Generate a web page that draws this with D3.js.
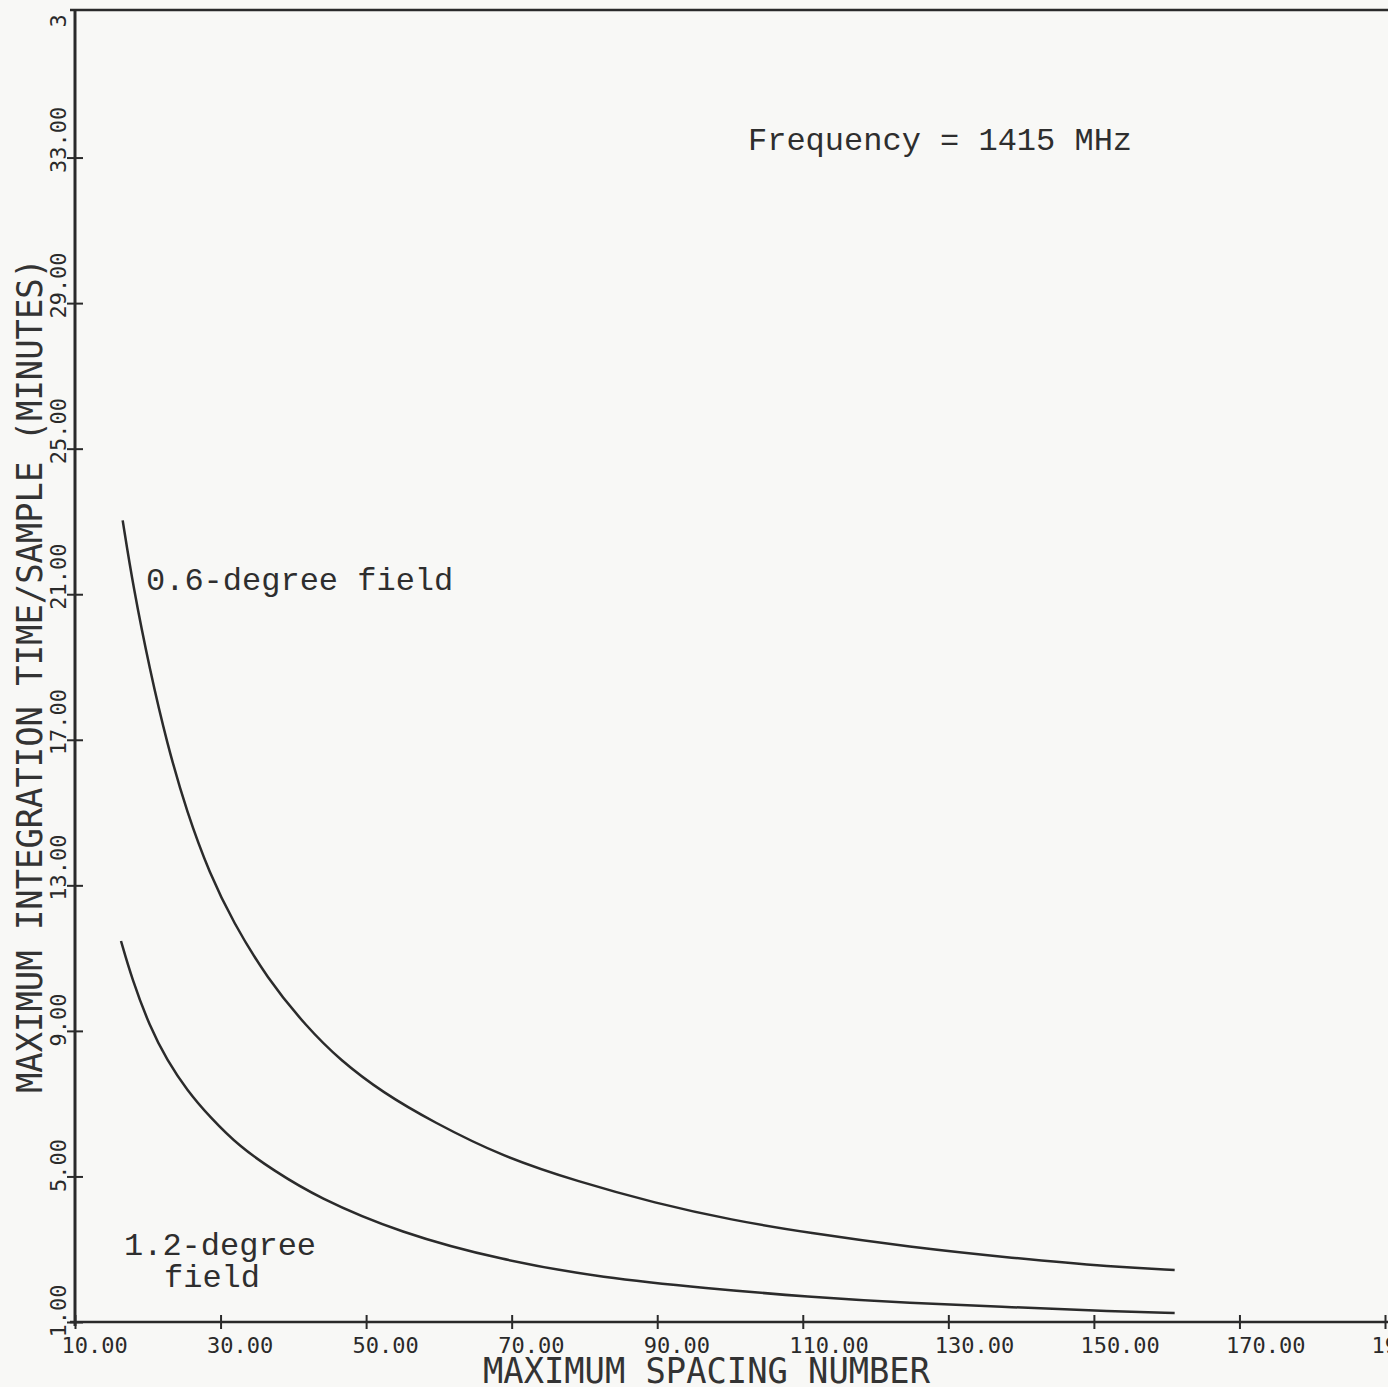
<!DOCTYPE html>
<html>
<head>
<meta charset="utf-8">
<script src="https://cdn.jsdelivr.net/npm/d3@7"></script>
<style>
	html, body { margin: 0; padding: 0; background: #f8f8f6; overflow: hidden; }
	.tick text { font-family: "DejaVu Sans Mono", monospace; font-size: 22px; fill: #2a2a2a; }
	.tick line { stroke: #2a2a2a; stroke-width: 2; }
	.axis-title { font-family: "DejaVu Sans Mono", monospace; font-size: 35px; fill: #333; }
	.note { font-family: "Liberation Mono", "Courier New", monospace; font-size: 32px; fill: #2e2e2e; }
</style>
</head>
<body>
<div id="chart"></div>
<script>
// 横軸・縦軸の目盛り
var xTicks = [10, 30, 50, 70, 90, 110, 130, 150, 170, 190];
var yTicks = [1, 5, 9, 13, 17, 21, 25, 29, 33, 37];

// 0.6-degree field
var spacing06 = [16.55, 18.00, 20.30, 22.64, 25.38, 28.54, 31.70, 36.37, 41.87, 46.40, 52.31, 59.18, 68.65, 79.23, 89.67, 100.25, 110.69, 124.70, 138.71, 152.72, 161.10];
var time06 = [23.03, 21.20, 18.90, 16.90, 15.00, 13.30, 12.00, 10.45, 9.10, 8.20, 7.30, 6.50, 5.55, 4.85, 4.27, 3.80, 3.45, 3.06, 2.76, 2.51, 2.43];

// 1.2-degree field
var spacing12 = [16.32, 17.79, 20.30, 22.64, 25.38, 28.54, 32.66, 37.20, 43.24, 54.64, 68.65, 82.66, 96.68, 110.69, 124.70, 138.71, 152.72, 161.10];
var time12 = [11.47, 10.45, 9.10, 8.20, 7.37, 6.63, 5.81, 5.18, 4.43, 3.45, 2.70, 2.21, 1.93, 1.69, 1.52, 1.41, 1.29, 1.25];

var svg = d3.select("#chart").append("svg")
	.attr("width", 1388)
	.attr("height", 1387);

// 上端で切れている目盛り用
svg.append("clipPath")
	.attr("id", "topclip")
	.append("rect")
	.attr("x", -100).attr("y", 14)
	.attr("width", 1600).attr("height", 1400);

var xScale = d3.scaleLinear()
	.domain([10, 190])
	.range([75, 1385]);
var yScale = d3.scaleLinear()
	.domain([1, 37])
	.range([1322, 12]);

var fmt = d3.format(".2f");

// 横軸
var xAxis = d3.axisBottom(xScale).tickValues(xTicks).tickFormat(fmt).tickSizeOuter(0);
var gx = svg.append("g")
	.attr("transform", "translate(0,1322)")
	.call(xAxis);
gx.select(".domain").remove();
gx.selectAll(".tick line").attr("y1", -7).attr("y2", 7);
gx.selectAll(".tick text")
	.attr("dy", null)
	.attr("y", 31)
	.attr("x", -14)
	.style("text-anchor", "start");

// 縦軸
var yAxis = d3.axisLeft(yScale).tickValues(yTicks).tickFormat(fmt).tickSizeOuter(0);
var gy = svg.append("g")
	.attr("transform", "translate(75,0)")
	.attr("clip-path", "url(#topclip)")
	.call(yAxis);
gy.select(".domain").remove();
gy.selectAll(".tick line").attr("x1", -8).attr("x2", 8);
gy.selectAll(".tick text")
	.attr("dy", null)
	.attr("x", null)
	.attr("transform", "translate(-9,15) rotate(-90)")
	.style("text-anchor", "start");

// 枠線
svg.append("line")
	.attr("x1", 70).attr("x2", 1388)
	.attr("y1", 10).attr("y2", 10)
	.attr("stroke", "#2a2a2a").attr("stroke-width", 2.5);
svg.append("line")
	.attr("x1", 75).attr("x2", 75)
	.attr("y1", 10).attr("y2", 1326)
	.attr("stroke", "#2a2a2a").attr("stroke-width", 3);
svg.append("line")
	.attr("x1", 70).attr("x2", 1388)
	.attr("y1", 1322).attr("y2", 1322)
	.attr("stroke", "#2a2a2a").attr("stroke-width", 2.5);

// 曲線
var line = d3.line()
	.x(function(d) { return xScale(d[0]); })
	.y(function(d) { return yScale(d[1]); })
	.curve(d3.curveBasis);

[[spacing06, time06], [spacing12, time12]].forEach(function(s) {
	svg.append("path")
		.datum(d3.zip(s[0], s[1]))
		.attr("d", line)
		.attr("fill", "none")
		.attr("stroke", "#2b2b2b")
		.attr("stroke-width", 2.5);
});

// 軸タイトル
svg.append("text")
	.attr("class", "axis-title")
	.attr("x", 483)
	.attr("y", 1383)
	.attr("textLength", 447)
	.attr("lengthAdjust", "spacingAndGlyphs")
	.text("MAXIMUM SPACING NUMBER");

svg.append("text")
	.attr("class", "axis-title")
	.attr("transform", "translate(42,1093) rotate(-90)")
	.attr("textLength", 835)
	.attr("lengthAdjust", "spacingAndGlyphs")
	.text("MAXIMUM INTEGRATION TIME/SAMPLE (MINUTES)");

// 注記
svg.append("text").attr("class", "note")
	.attr("x", 748).attr("y", 150)
	.text("Frequency = 1415 MHz");
svg.append("text").attr("class", "note")
	.attr("x", 146).attr("y", 590)
	.text("0.6-degree field");
svg.append("text").attr("class", "note")
	.attr("x", 124).attr("y", 1255)
	.text("1.2-degree");
svg.append("text").attr("class", "note")
	.attr("x", 164).attr("y", 1287)
	.text("field");
</script>
</body>
</html>
